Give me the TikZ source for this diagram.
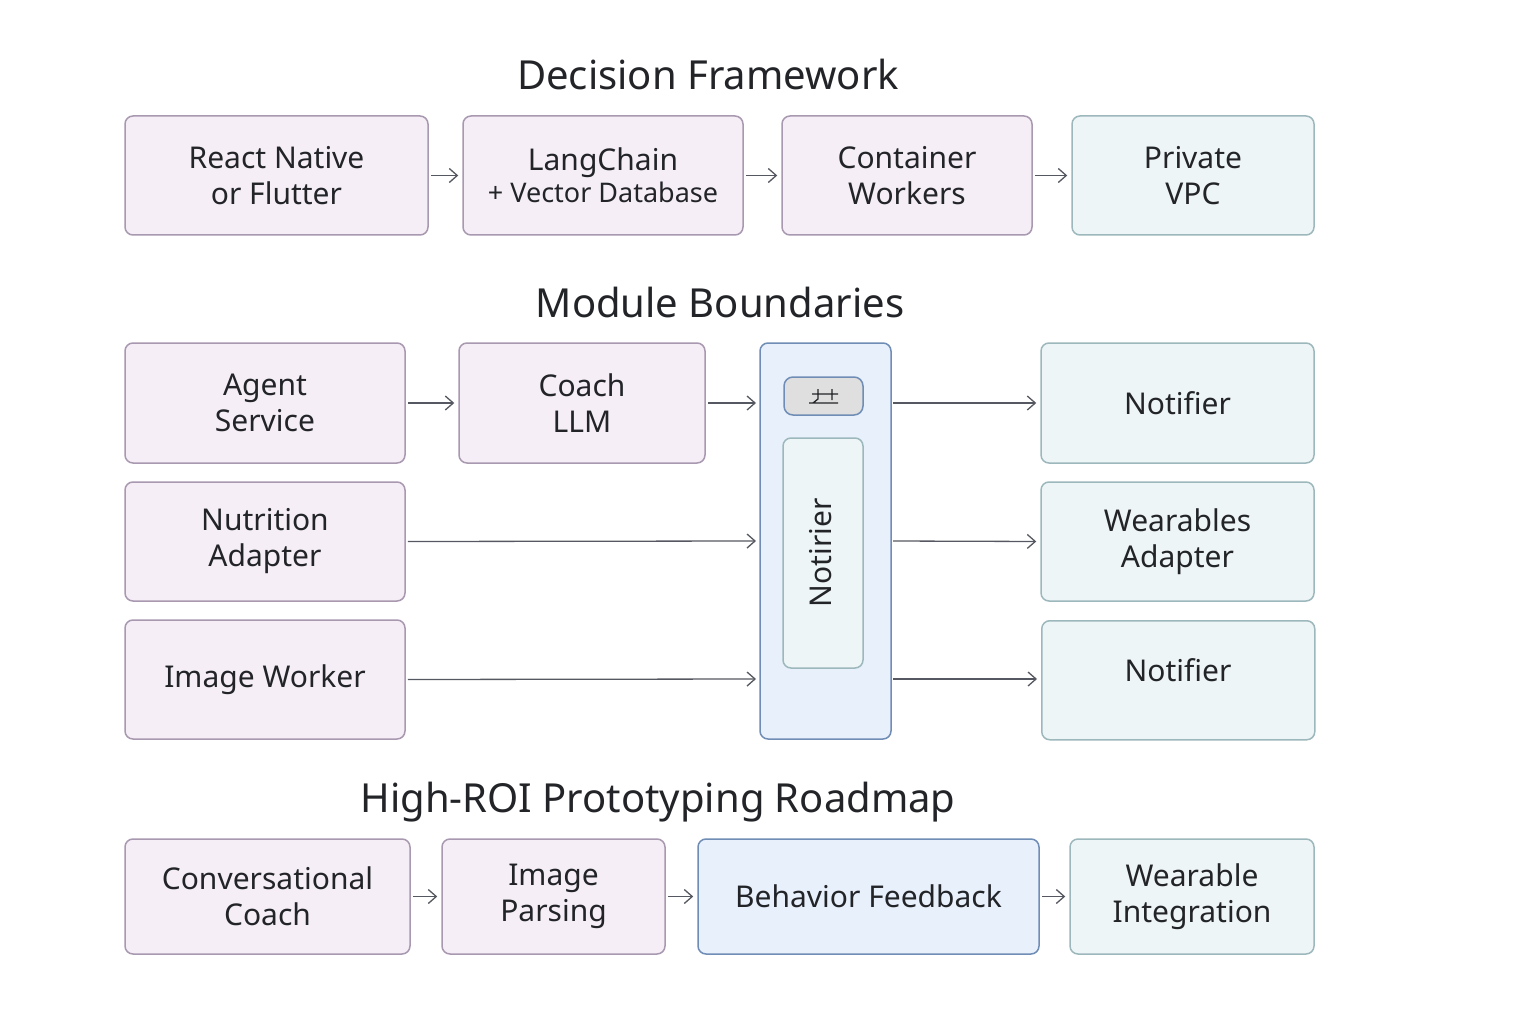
\documentclass[tikz,border=0pt]{standalone}
\usepackage{fontspec}
\setmainfont{Noto Sans}
\usetikzlibrary{arrows.meta}
\definecolor{pf}{HTML}{F5EEF6}\definecolor{pb}{HTML}{A898B0}
\definecolor{tf}{HTML}{EEF5F7}\definecolor{tb}{HTML}{9DB8BC}
\definecolor{bf}{HTML}{E8F0FC}\definecolor{bb}{HTML}{6F8DB5}
\definecolor{tx}{HTML}{222428}\definecolor{ar}{HTML}{555860}
\tikzset{
 bx/.style={draw, line width=1.5pt, rounded corners=8pt, align=center, text=tx, font=\fontsize{30}{36}\selectfont},
 pk/.style={bx, fill=pf, draw=pb},
 tl/.style={bx, fill=tf, draw=tb},
 bl/.style={bx, fill=bf, draw=bb},
 ttl/.style={text=tx, font=\fontsize{40}{46}\selectfont},
 arw/.style={draw=ar, line width=1.3pt, -{Straight Barb[length=8pt,width=14pt]}, shorten >=4pt, shorten <=2pt}
}
\newcommand{\bxat}[6]{\path[#1] (#2,#3) rectangle (#4,#5) node[midway,bx,draw=none,fill=none,rounded corners=0] {#6};}
\begin{document}
\begin{tikzpicture}[x=1pt,y=-1pt]
\useasboundingbox[fill=white] (0,0) rectangle (1536,1024);
\node[ttl] (t1) at (708,75) {Decision Framework};
\node[ttl] (t2) at (720,302) {Module Boundaries};
\node[ttl] (t3) at (658,802) {High-ROI Prototyping Roadmap};
% helper: node by corners
\def\B#1#2#3#4#5#6#7{\node[#2, minimum width=#5-#3, minimum height=#6-#4] (#1) at ({(#3+#5)/2},{(#4+#6)/2}) {#7};}
\B{a1}{pk}{125}{116}{428}{235}{React Native\\or Flutter}
\B{a2}{pk}{463}{116}{743}{235}{LangChain\\[-4pt]{\fontsize{27}{32}\selectfont + Vector Database}}
\B{a3}{pk}{782}{116}{1032}{235}{Container\\Workers}
\B{a4}{tl}{1072}{116}{1314}{235}{Private\\VPC}
\draw[arw] (a1) -- (a2); \draw[arw] (a2) -- (a3); \draw[arw] (a3) -- (a4);
\B{m1}{pk}{125}{343}{405}{463}{Agent\\Service}
\B{m2}{pk}{459}{343}{705}{463}{Coach\\LLM}
\B{m3}{pk}{125}{482}{405}{601}{Nutrition\\Adapter}
\B{m4}{pk}{125}{620}{405}{739}{Image Worker}
\B{col}{bl}{760}{343}{891}{739}{}
\B{r1}{tl}{1041}{343}{1314}{463}{Notifier}
\B{r2}{tl}{1041}{482}{1314}{601}{Wearables\\Adapter}
\node[tl, minimum width=273, minimum height=119, anchor=north west, text height=0pt, text depth=0pt] (r3) at (1041,620) {};
\node[text=tx, font=\fontsize{30}{36}\selectfont] (r3t) at (1178,670) {Notifier};
\node[draw=bb, line width=1.5pt, fill=gray!25, rounded corners=9pt, minimum width=79, minimum height=38] (pill) at (823.5,396) {};
\draw[tx, line width=1.3pt] (809,403)--(838,403) (812,394)--(838,394) (818,389)--(818,399)--(813,403) (832,389)--(832,400);
\node[fill=tf, draw=tb, line width=1.5pt, rounded corners=8pt, minimum width=80, minimum height=230] (inner) at (823,553) {};
\node[rotate=90, text=tx, font=\fontsize{30}{36}\selectfont] (nt) at (821,553) {Notirier};
\coordinate (c2) at (760,403); \coordinate (c3) at (760,541); \coordinate (c4) at (760,679);
\coordinate (o2) at (891,403); \coordinate (o3) at (891,541); \coordinate (o4) at (891,679);
\draw[arw] (m1) -- (m2); \draw[arw] (m2.east) -- (c2); \draw[arw] (m3.east) -- (c3); \draw[arw] (m4.east) -- (c4);
\draw[arw] (o2) -- (r1.west); \draw[arw] (o3) -- (r2.west); \draw[arw] (o4) -- (r3.west |- o4);
\B{p1}{pk}{125}{839}{410}{954}{Conversational\\Coach}
\B{p2}{pk}{442}{839}{665}{954}{Image\\Parsing}
\B{p3}{bl}{698}{839}{1039}{954}{Behavior Feedback}
\B{p4}{tl}{1070}{839}{1314}{954}{Wearable\\Integration}
\draw[arw] (p1) -- (p2); \draw[arw] (p2) -- (p3); \draw[arw] (p3) -- (p4);
\end{tikzpicture}
\end{document}
